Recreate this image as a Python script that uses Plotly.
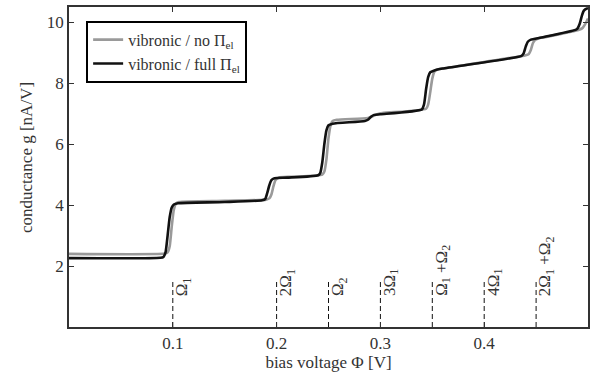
import plotly.graph_objects as go

# Conductance curves g(Φ) in nA/V, sampled at the bias voltages below
phi_no_pi = [0.000, 0.092, 0.095, 0.097, 0.099, 0.101, 0.103, 0.106, 0.150, 0.190,
             0.193, 0.195, 0.197, 0.199, 0.202, 0.215, 0.244, 0.246, 0.248, 0.250,
             0.252, 0.254, 0.258, 0.288, 0.293, 0.297, 0.302, 0.344, 0.346, 0.348,
             0.350, 0.352, 0.355, 0.360, 0.440, 0.443, 0.445, 0.447, 0.449, 0.452,
             0.460, 0.492, 0.495, 0.497, 0.499, 0.500]
g_no_pi = [2.40, 2.41, 2.45, 2.65, 3.30, 3.85, 4.05, 4.10, 4.14, 4.18,
           4.22, 4.35, 4.62, 4.82, 4.90, 4.93, 5.00, 5.10, 5.50, 6.20,
           6.62, 6.76, 6.80, 6.86, 6.92, 6.98, 7.02, 7.16, 7.30, 7.70,
           8.15, 8.38, 8.45, 8.48, 8.92, 8.96, 9.10, 9.32, 9.42, 9.47,
           9.52, 9.76, 9.82, 9.92, 10.05, 10.12]

phi_full_pi = [0.000, 0.088, 0.091, 0.093, 0.095, 0.097, 0.099, 0.101, 0.105, 0.150,
               0.186, 0.189, 0.191, 0.193, 0.195, 0.198, 0.210, 0.240, 0.242, 0.244,
               0.246, 0.248, 0.250, 0.254, 0.285, 0.288, 0.291, 0.294, 0.300, 0.340,
               0.342, 0.344, 0.346, 0.348, 0.352, 0.360, 0.436, 0.438, 0.440, 0.442,
               0.445, 0.455, 0.488, 0.490, 0.492, 0.494, 0.496, 0.499, 0.500]
g_full_pi = [2.26, 2.27, 2.30, 2.45, 3.00, 3.60, 3.92, 4.02, 4.06, 4.10,
             4.16, 4.20, 4.40, 4.65, 4.82, 4.88, 4.90, 4.98, 5.05, 5.40,
             6.00, 6.45, 6.62, 6.67, 6.76, 6.80, 6.90, 6.96, 6.98, 7.14,
             7.30, 7.80, 8.20, 8.36, 8.42, 8.48, 8.90, 8.98, 9.20, 9.36,
             9.43, 9.50, 9.75, 9.80, 9.95, 10.20, 10.38, 10.45, 10.45]

# Vibrational excitation thresholds
mode_phi = [0.10, 0.20, 0.25, 0.30, 0.35, 0.40, 0.45]
mode_labels = ["Ω<sub>1</sub>", "2Ω<sub>1</sub>", "Ω<sub>2</sub>", "3Ω<sub>1</sub>",
               "Ω<sub>1</sub> +Ω<sub>2</sub>", "4Ω<sub>1</sub>", "2Ω<sub>1</sub> +Ω<sub>2</sub>"]
mode_line_top = 1.55
mode_label_base = 0.95

x_ticks = [0.1, 0.2, 0.3, 0.4]
y_ticks = [2, 4, 6, 8, 10]

FONT = "Liberation Serif"
TXT = "#333333"

fig = go.Figure()

fig.add_trace(go.Scatter(
    x=phi_no_pi, y=g_no_pi, mode="lines", name="vibronic / no Π<sub>el</sub>",
    line=dict(color="#9a9a9a", width=2.6, shape="spline", smoothing=0.6),
))
fig.add_trace(go.Scatter(
    x=phi_full_pi, y=g_full_pi, mode="lines", name="vibronic / full Π<sub>el</sub>",
    line=dict(color="#111111", width=2.6, shape="spline", smoothing=0.6),
))

for xv, lab in zip(mode_phi, mode_labels):
    fig.add_trace(go.Scatter(
        x=[xv, xv], y=[0, mode_line_top], mode="lines", showlegend=False,
        hoverinfo="skip", line=dict(color="#111111", width=1, dash="5px,3px"),
    ))
    fig.add_annotation(
        x=xv, y=mode_label_base, xref="x", yref="y", text=lab, showarrow=False,
        textangle=-90, xanchor="left", yanchor="bottom", xshift=-3,
        font=dict(family=FONT, size=17, color=TXT),
    )

# Vertical axis title
fig.add_annotation(
    x=-0.083, y=0.531, xref="paper", yref="paper", text="conductance g [nA/V]",
    showarrow=False, textangle=-90, xanchor="center", yanchor="middle",
    font=dict(family=FONT, size=17, color=TXT),
)

axis_common = dict(
    showline=True, linecolor="#333333", linewidth=1.5, mirror="ticks",
    ticks="inside", ticklen=5, tickwidth=1, tickcolor="#333333",
    showgrid=False, zeroline=False,
    tickfont=dict(family=FONT, size=17, color=TXT),
)

fig.update_xaxes(
    range=[0, 0.5], tickvals=x_ticks, ticktext=[f"{v:.1f}" for v in x_ticks],
    title=dict(text="bias voltage Φ [V]", font=dict(family=FONT, size=17, color=TXT),
               standoff=4),
    **axis_common,
)
fig.update_yaxes(range=[0, 10.5], tickvals=y_ticks, **axis_common)

fig.update_layout(
    width=596, height=379,
    margin=dict(l=69, r=8, t=5, b=52),
    paper_bgcolor="white", plot_bgcolor="white",
    font=dict(family=FONT, size=16, color=TXT),
    legend=dict(
        x=0.033, y=0.957, xanchor="left", yanchor="top",
        bgcolor="white", bordercolor="#000000", borderwidth=2,
        font=dict(family=FONT, size=16, color=TXT),
        tracegroupgap=0, itemwidth=30,
    ),
)

fig.write_html("out.html")
